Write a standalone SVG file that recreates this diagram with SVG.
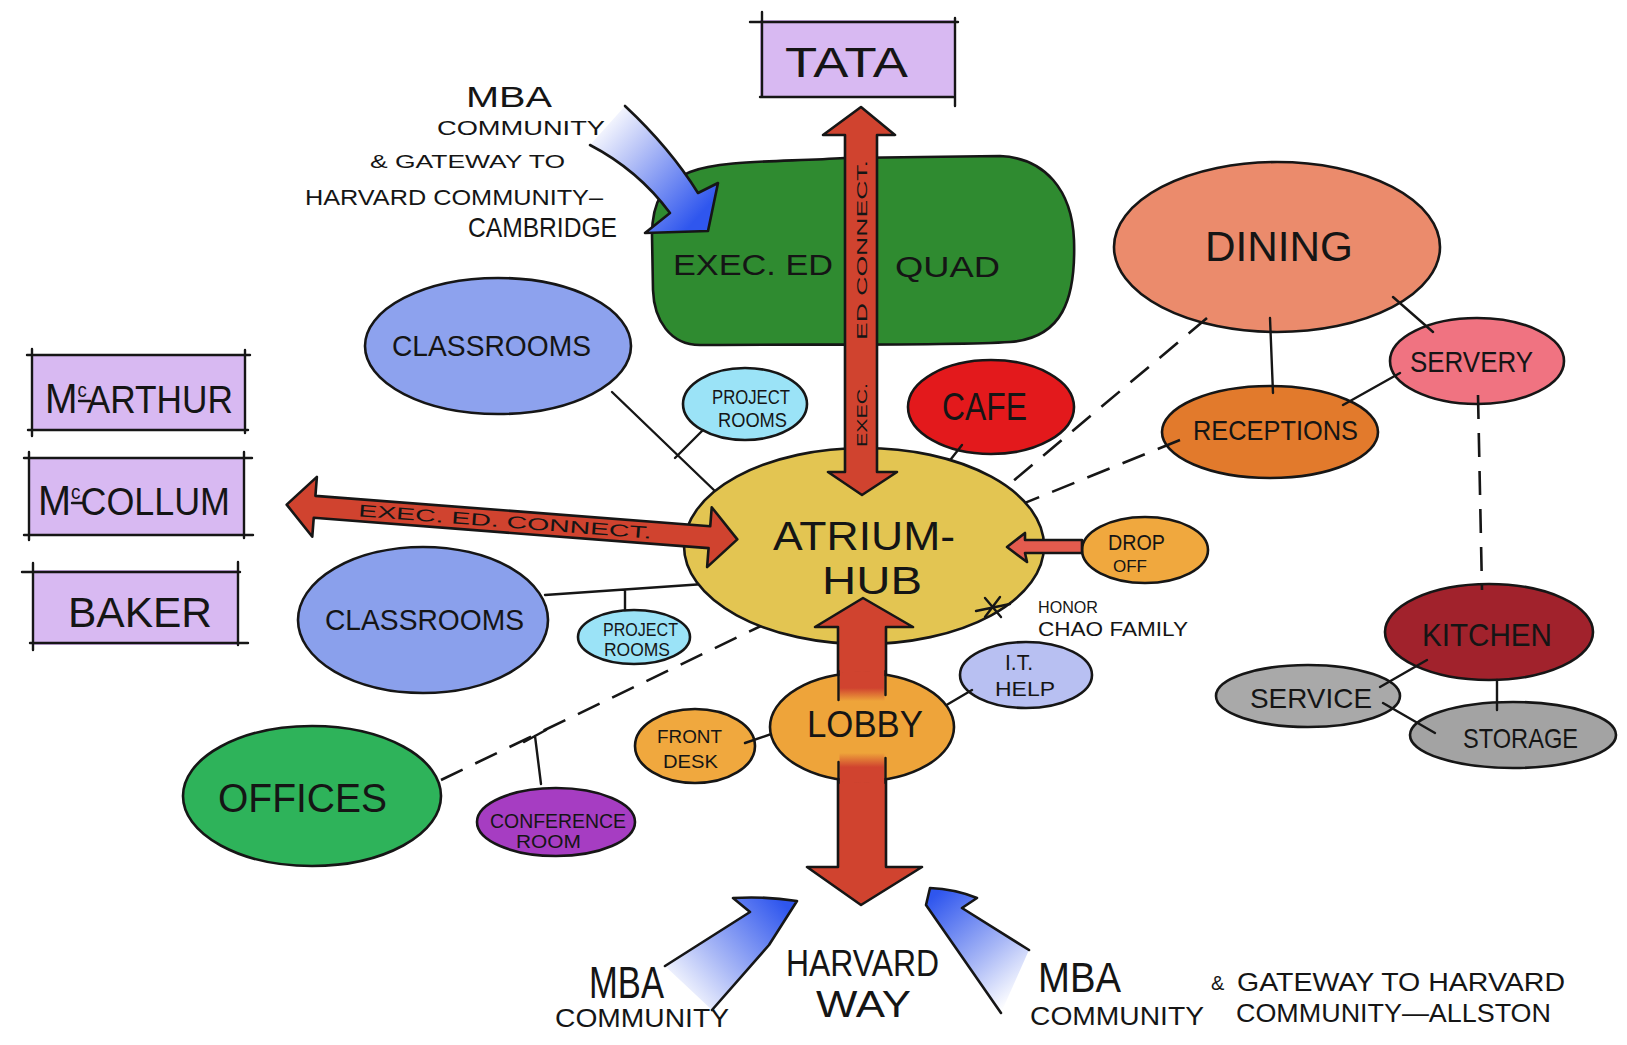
<svg xmlns="http://www.w3.org/2000/svg" width="1627" height="1045" viewBox="0 0 1627 1045">
<style>
.o{stroke:#161616;stroke-width:2.6;stroke-linejoin:round;stroke-linecap:round}
.ln{stroke:#161616;stroke-width:2.4;fill:none;stroke-linecap:round}
.dash{stroke:#161616;stroke-width:2.6;fill:none;stroke-dasharray:24 14}
.t{font-family:"Liberation Sans","DejaVu Sans",sans-serif;fill:#151515}
.ra{fill:#D0432F}
.box{fill:#D8B9F2}
.edge{stroke:#161616;stroke-width:2.6;fill:none;stroke-linejoin:round;stroke-linecap:round}
</style>
<defs>
<linearGradient id="gTop" gradientUnits="userSpaceOnUse" x1="598" y1="122" x2="700" y2="215">
<stop offset="0" stop-color="#ffffff"/><stop offset="0.35" stop-color="#b9c4f7"/><stop offset="1" stop-color="#2f56ee"/>
</linearGradient>
<linearGradient id="gBL" gradientUnits="userSpaceOnUse" x1="680" y1="1000" x2="785" y2="905">
<stop offset="0" stop-color="#ffffff"/><stop offset="0.4" stop-color="#a9b8f6"/><stop offset="1" stop-color="#2f56ee"/>
</linearGradient>
<linearGradient id="gBR" gradientUnits="userSpaceOnUse" x1="1020" y1="995" x2="935" y2="895">
<stop offset="0" stop-color="#ffffff"/><stop offset="0.4" stop-color="#a9b8f6"/><stop offset="1" stop-color="#2f56ee"/>
</linearGradient>
<linearGradient id="gLobby" x1="0" y1="0" x2="0" y2="1">
<stop offset="0" stop-color="#D0432F"/><stop offset="0.17" stop-color="#D0432F"/><stop offset="0.28" stop-color="#EEA43A"/>
<stop offset="0.72" stop-color="#EEA43A"/><stop offset="0.84" stop-color="#D0432F"/><stop offset="1" stop-color="#D0432F"/>
</linearGradient>
<clipPath id="cLobby"><ellipse cx="862" cy="727" rx="94" ry="56"/></clipPath>
</defs>
<rect width="1627" height="1045" fill="#ffffff"/>

<g id="tata">
<rect class="box" x="760" y="20" width="195" height="77"/>
<path class="ln" d="M750,22 H958 M762,12 V97 M955,18 V106 M760,97 H953"/>
<text class="t" x="785" y="77" font-size="42" textLength="123" lengthAdjust="spacingAndGlyphs">TATA</text>
</g>

<g id="mcarthur">
<rect class="box" x="32" y="355" width="213" height="75"/>
<path class="ln" d="M27,355 H250 M32,349 V436 M245,350 V433 M28,430 H248"/>
<text class="t" x="45" y="413" font-size="42" textLength="188" lengthAdjust="spacingAndGlyphs">M<tspan font-size="20" dy="-16">c</tspan><tspan dy="16" font-size="38">ARTHUR</tspan></text>
<path class="ln" d="M79,401 H90" stroke-width="2"/>
</g>
<g id="mccollum">
<rect class="box" x="28" y="458" width="216" height="77"/>
<path class="ln" d="M24,458 H252 M29,452 V540 M244,452 V538 M24,535 H253"/>
<text class="t" x="38" y="515" font-size="42" textLength="192" lengthAdjust="spacingAndGlyphs">M<tspan font-size="20" dy="-16">c</tspan><tspan dy="16" font-size="38">COLLUM</tspan></text>
<path class="ln" d="M72,503 H83" stroke-width="2"/>
</g>
<g id="baker">
<rect class="box" x="32" y="570" width="206" height="75"/>
<path class="ln" d="M22,572 H240 M33,563 V650 M238,562 V645 M30,643 H248"/>
<text class="t" x="68" y="627" font-size="42" textLength="144" lengthAdjust="spacingAndGlyphs">BAKER</text>
</g>

<g id="exec-ed-quad">
<path class="o" fill="#2F8B30" d="M690,172 C720,160 780,162 845,158 L1000,156 C1045,158 1072,190 1074,240 C1076,300 1062,338 1010,342 C950,346 800,344 700,345 C670,345 654,320 653,290 L652,235 C652,200 665,182 690,172 Z"/>
<text class="t" x="673" y="275" font-size="30" textLength="160" lengthAdjust="spacingAndGlyphs">EXEC. ED</text>
<text class="t" x="895" y="277" font-size="30" textLength="105" lengthAdjust="spacingAndGlyphs">QUAD</text>
</g>

<g id="cambridge-note">
<path fill="url(#gTop)" d="M625,106 Q670,148 698,193 L718,183 L708,231 L645,233 L670,213 Q638,170 590,145 Z"/>
<path class="edge" d="M625,106 Q670,148 698,193 L718,183 L708,231 L645,233 L670,213 Q638,170 590,145"/>
<text class="t" x="466" y="107" font-size="30" textLength="86" lengthAdjust="spacingAndGlyphs">MBA</text>
<text class="t" x="437" y="135" font-size="20" textLength="168" lengthAdjust="spacingAndGlyphs">COMMUNITY</text>
<text class="t" x="370" y="168" font-size="19" textLength="195" lengthAdjust="spacingAndGlyphs">&amp; GATEWAY TO</text>
<text class="t" x="305" y="205" font-size="22" textLength="298" lengthAdjust="spacingAndGlyphs">HARVARD COMMUNITY–</text>
<text class="t" x="468" y="237" font-size="28" textLength="149" lengthAdjust="spacingAndGlyphs">CAMBRIDGE</text>
</g>

<g id="classrooms-top">
<ellipse class="o" fill="#8DA2EE" cx="498" cy="346" rx="133" ry="68"/>
<text class="t" x="392" y="356" font-size="30" textLength="199" lengthAdjust="spacingAndGlyphs">CLASSROOMS</text>
</g>
<g id="project-rooms-top">
<ellipse class="o" fill="#9BE3F7" cx="745" cy="404" rx="62" ry="36"/>
<text class="t" x="712" y="404" font-size="20" textLength="78" lengthAdjust="spacingAndGlyphs">PROJECT</text>
<text class="t" x="718" y="427" font-size="20" textLength="69" lengthAdjust="spacingAndGlyphs">ROOMS</text>
</g>
<g id="classrooms-bottom">
<ellipse class="o" fill="#8AA0EC" cx="423" cy="620" rx="125" ry="73"/>
<text class="t" x="325" y="630" font-size="30" textLength="199" lengthAdjust="spacingAndGlyphs">CLASSROOMS</text>
</g>
<g id="project-rooms-bottom">
<ellipse class="o" fill="#9BE3F7" cx="634" cy="637" rx="56" ry="27"/>
<text class="t" x="603" y="636" font-size="18" textLength="75" lengthAdjust="spacingAndGlyphs">PROJECT</text>
<text class="t" x="604" y="656" font-size="18" textLength="66" lengthAdjust="spacingAndGlyphs">ROOMS</text>
</g>
<g id="cafe">
<ellipse class="o" fill="#E3191C" cx="991" cy="407" rx="83" ry="47"/>
<text class="t" x="942" y="420" font-size="38" textLength="85" lengthAdjust="spacingAndGlyphs">CAFE</text>
</g>
<g id="dining">
<ellipse class="o" fill="#EB8B6C" cx="1277" cy="247" rx="163" ry="85"/>
<text class="t" x="1205" y="261" font-size="42" textLength="148" lengthAdjust="spacingAndGlyphs">DINING</text>
</g>
<g id="servery">
<ellipse class="o" fill="#F07381" cx="1477" cy="361" rx="87" ry="43"/>
<text class="t" x="1410" y="372" font-size="30" textLength="123" lengthAdjust="spacingAndGlyphs">SERVERY</text>
</g>
<g id="receptions">
<ellipse class="o" fill="#E27A2C" cx="1270" cy="432" rx="108" ry="46"/>
<text class="t" x="1193" y="440" font-size="28" textLength="165" lengthAdjust="spacingAndGlyphs">RECEPTIONS</text>
</g>
<g id="kitchen">
<ellipse class="o" fill="#A1222C" cx="1489" cy="632" rx="104" ry="48"/>
<text class="t" x="1422" y="646" font-size="32" textLength="130" lengthAdjust="spacingAndGlyphs">KITCHEN</text>
</g>
<g id="service">
<ellipse class="o" fill="#A9A9A9" cx="1308" cy="696" rx="92" ry="31"/>
<text class="t" x="1250" y="708" font-size="28" textLength="122" lengthAdjust="spacingAndGlyphs">SERVICE</text>
</g>
<g id="storage">
<ellipse class="o" fill="#A3A3A3" cx="1513" cy="735" rx="103" ry="33"/>
<text class="t" x="1463" y="748" font-size="28" textLength="115" lengthAdjust="spacingAndGlyphs">STORAGE</text>
</g>
<g id="offices">
<ellipse class="o" fill="#2EB35A" cx="312" cy="796" rx="129" ry="70"/>
<text class="t" x="218" y="812" font-size="40" textLength="169" lengthAdjust="spacingAndGlyphs">OFFICES</text>
</g>
<g id="conference-room">
<ellipse class="o" fill="#A63DC2" cx="556" cy="822" rx="79" ry="34"/>
<text class="t" x="490" y="828" font-size="20" textLength="136" lengthAdjust="spacingAndGlyphs">CONFERENCE</text>
<text class="t" x="516" y="848" font-size="18" textLength="65" lengthAdjust="spacingAndGlyphs">ROOM</text>
</g>
<g id="front-desk">
<ellipse class="o" fill="#F0A83E" cx="695" cy="746" rx="60" ry="37"/>
<text class="t" x="657" y="743" font-size="18" textLength="65" lengthAdjust="spacingAndGlyphs">FRONT</text>
<text class="t" x="663" y="768" font-size="18" textLength="55" lengthAdjust="spacingAndGlyphs">DESK</text>
</g>
<g id="it-help">
<ellipse class="o" fill="#B8C0F2" cx="1026" cy="675" rx="66" ry="33"/>
<text class="t" x="1005" y="670" font-size="22" textLength="28" lengthAdjust="spacingAndGlyphs">I.T.</text>
<text class="t" x="995" y="696" font-size="20" textLength="60" lengthAdjust="spacingAndGlyphs">HELP</text>
</g>
<g id="drop-off">
<ellipse class="o" fill="#F0A83E" cx="1145" cy="550" rx="63" ry="33"/>
<text class="t" x="1108" y="550" font-size="22" textLength="57" lengthAdjust="spacingAndGlyphs">DROP</text>
<text class="t" x="1113" y="572" font-size="17" textLength="34" lengthAdjust="spacingAndGlyphs">OFF</text>
</g>

<g id="connectors">
<path class="ln" d="M612,392 L717,493 M703,430 L675,458"/>
<path class="ln" d="M545,595 L704,584 M625,590 L625,610"/>
<path class="ln" d="M962,445 L940,473"/>
<path class="ln" d="M745,743 L777,732 M938,710 L972,690"/>
<path class="ln" d="M1270,318 L1273,393 M1393,297 L1433,332 M1400,373 L1343,405"/>
<path class="ln" d="M1427,660 L1380,687 M1497,680 L1497,710 M1383,703 L1435,733"/>
<path class="dash" d="M1207,318 L987,503"/>
<path class="dash" d="M1180,440 L995,515"/>
<path class="dash" d="M441,780 L767,623"/>
<path class="dash" d="M1478,395 L1482,590"/>
<path class="ln" d="M524,742 L546,730 M535,736 L541,784"/>
</g>

<g id="atrium-hub">
<ellipse class="o" fill="#E3C552" cx="864" cy="546" rx="180" ry="98"/>
<text class="t" x="773" y="550" font-size="40" textLength="182" lengthAdjust="spacingAndGlyphs">ATRIUM-</text>
<text class="t" x="822" y="594" font-size="38" textLength="100" lengthAdjust="spacingAndGlyphs">HUB</text>
<path class="ln" d="M976,611 L1010,604 M985,598 L1001,617 M985,617 L1000,597"/>
<text class="t" x="1038" y="613" font-size="17" textLength="60" lengthAdjust="spacingAndGlyphs">HONOR</text>
<text class="t" x="1038" y="636" font-size="20" textLength="150" lengthAdjust="spacingAndGlyphs">CHAO FAMILY</text>
</g>

<g id="arrows">
<polygon class="o ra" points="861,107 895,135 877,135 877,472 897,472 862,495 828,472 845,472 845,135 823,135"/>
<text class="t" transform="translate(867,447) rotate(-90)" font-size="15" textLength="64" lengthAdjust="spacingAndGlyphs">EXEC.</text>
<text class="t" transform="translate(867,340) rotate(-90)" font-size="15" textLength="180" lengthAdjust="spacingAndGlyphs">ED CONNECT.</text>
<g transform="translate(512,522) rotate(4.4)">
<polygon class="o ra" points="-226,0 -198,-30 -198,-11 198,-11 198,-30 226,0 198,30 198,11 -198,11 -198,30"/>
<text class="t" x="-154" y="6" font-size="17" textLength="294" lengthAdjust="spacingAndGlyphs">EXEC. ED. CONNECT.</text>
</g>
<polygon class="o" fill="#E35B4E" points="1007,547 1025,533 1025,540 1082,540 1082,553 1025,553 1027,562"/>
<polygon class="o ra" points="863,598 913,627 886,627 886,867 922,867 861,905 807,867 838,867 838,627 815,627"/>
</g>

<g id="lobby">
<ellipse class="o" fill="#EEA43A" cx="862" cy="727" rx="92" ry="54"/>
<rect x="839.5" y="668" width="45" height="118" fill="url(#gLobby)" clip-path="url(#cLobby)"/>
<path class="ln" d="M838.5,671 V700 M838.5,762 V783 M885.5,671 V695 M885.5,758 V783"/>
<text class="t" x="807" y="737" font-size="37" textLength="116" lengthAdjust="spacingAndGlyphs">LOBBY</text>
</g>

<g id="harvard-way">
<path fill="url(#gBL)" d="M665,966 L750,912 L733,898 Q765,896 797,901 L769,945 L712,1010 Z"/>
<path class="edge" d="M665,966 L750,912 L733,898 Q765,896 797,901 L769,945 L712,1010"/>
<path fill="url(#gBR)" d="M1001,1013 L926,905 L930,888 Q955,889 977,898 L962,908 L1029,950 Z"/>
<path class="edge" d="M1001,1013 L926,905 L930,888 Q955,889 977,898 L962,908 L1029,950"/>
<text class="t" x="589" y="998" font-size="44" textLength="75" lengthAdjust="spacingAndGlyphs">MBA</text>
<text class="t" x="555" y="1027" font-size="26" textLength="174" lengthAdjust="spacingAndGlyphs">COMMUNITY</text>
<text class="t" x="786" y="976" font-size="36" textLength="153" lengthAdjust="spacingAndGlyphs">HARVARD</text>
<text class="t" x="816" y="1017" font-size="36" textLength="95" lengthAdjust="spacingAndGlyphs">WAY</text>
<text class="t" x="1038" y="992" font-size="42" textLength="83" lengthAdjust="spacingAndGlyphs">MBA</text>
<text class="t" x="1030" y="1025" font-size="26" textLength="174" lengthAdjust="spacingAndGlyphs">COMMUNITY</text>
<text class="t" x="1211" y="990" font-size="20">&amp;</text>
<text class="t" x="1237" y="991" font-size="26" textLength="328" lengthAdjust="spacingAndGlyphs">GATEWAY TO HARVARD</text>
<text class="t" x="1236" y="1022" font-size="26" textLength="315" lengthAdjust="spacingAndGlyphs">COMMUNITY—ALLSTON</text>
</g>
</svg>
